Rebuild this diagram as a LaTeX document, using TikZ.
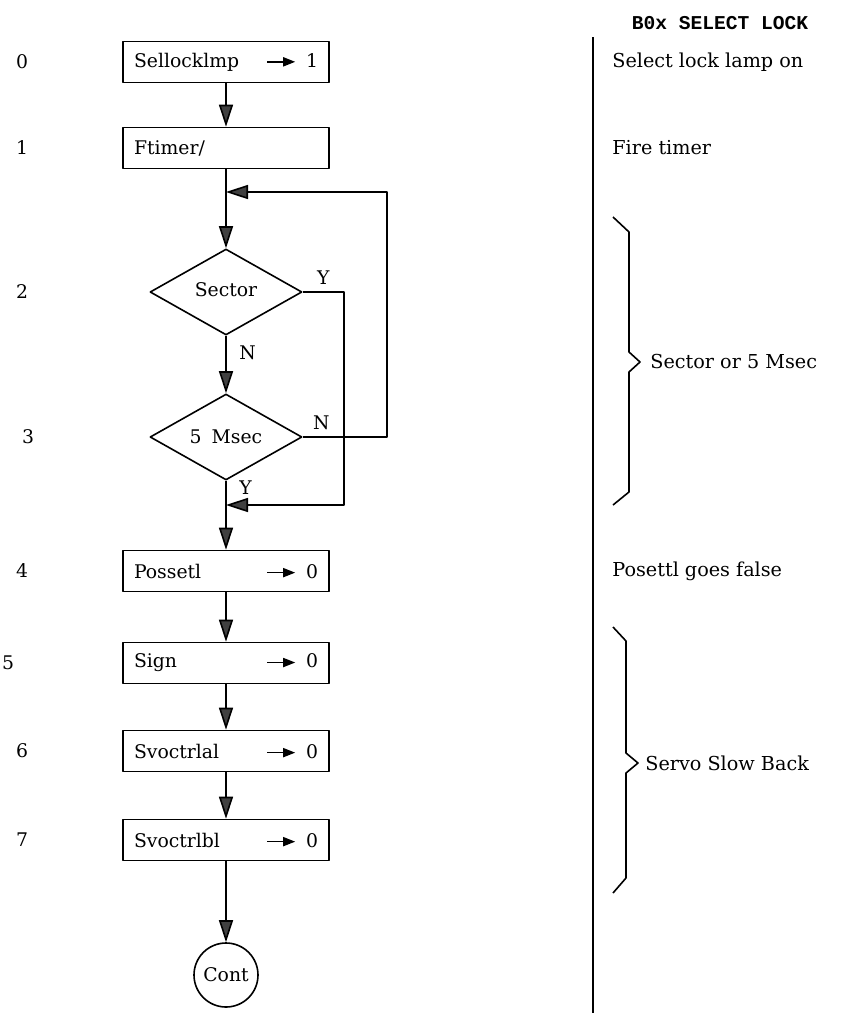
\documentclass[tikz,border=0pt]{standalone}
\usepackage{fontspec}
\setmainfont{DejaVu Serif}
\newfontfamily\typefont{Liberation Mono}
\usetikzlibrary{shapes.geometric,arrows.meta}
\newcommand{\setto}{\tikz[baseline=-0.55ex]\draw[line width=0.8pt,-{Triangle[length=6pt,width=4.5pt]}] (0,0) -- (14pt,0);}
\newcommand{\boxline}[2]{\makebox[92pt]{#1\hfill\setto\hspace{5pt}#2}}

\begin{document}
\begin{tikzpicture}[x=0.5pt, y=-0.5pt, line join=round, font=\fontsize{9.4}{11}\selectfont,
    >={Triangle[length=11pt,width=7pt,fill=darkgray]},
    flowbox/.style={draw, line width=0.8pt, minimum width=103pt, minimum height=20.5pt, inner xsep=5.5pt, inner ysep=0pt},
    decision/.style={diamond, draw, line width=0.8pt, aspect=1.75, minimum width=76pt, minimum height=43pt, inner sep=0pt},
    note/.style={anchor=west, inner sep=0pt, font=\fontsize{9.6}{11}\selectfont},
    line/.style={line width=0.8pt}]
    \useasboundingbox (0,0) rectangle (844,1013);

    \node[flowbox] (sellock) at (226,62) {\boxline{Sellocklmp}{1}};
    \node[flowbox] (ftimer) at (226,148) {\makebox[92pt][l]{Ftimer/}};
    \coordinate (loopin) at (226,192);
    \node[decision] (sector) at (226,292) {\raisebox{2pt}{Sector}\hspace{16pt}};
    \node[decision] (msec) at (226,437) {5\hspace{5pt}Msec\hspace{8pt}};
    \coordinate (merge) at (226,505);
    \node[flowbox] (possetl) at (226,571) {\boxline{Possetl}{0}};
    \node[flowbox] (sign) at (226,663) {\boxline{Sign}{0}};
    \node[flowbox] (svoctrlal) at (226,751) {\boxline{Svoctrlal}{0}};
    \node[flowbox] (svoctrlbl) at (226,840) {\boxline{Svoctrlbl}{0}};
    \node[circle, draw, line width=0.8pt, minimum size=32pt, inner sep=0pt] (cont) at (226,975) {Cont};
    \coordinate (yturn) at (344,505);
    \coordinate (nturn) at (387,192);

    \draw[line,->] (sellock) -- (ftimer);
    \draw[line] (ftimer) -- (loopin);
    \draw[line,->] (loopin) -- (sector);
    \draw[line,->] (sector) -- node[right=3pt, pos=0.3]{N} (msec);
    \draw[line,->] (sector.east) -- node[above]{Y} (sector.east -| yturn) -- (yturn) -- (merge);
    \draw[line,->] (msec.east) -- node[above, pos=0.22]{N} (msec.east -| nturn) -- (nturn) -- (loopin);
    \draw[line] (msec) -- node[right=3pt, pos=0.3]{Y} (merge);
    \draw[line,->] (merge) -- (possetl);
    \draw[line,->] (possetl) -- (sign);
    \draw[line,->] (sign) -- (svoctrlal);
    \draw[line,->] (svoctrlal) -- (svoctrlbl);
    \draw[line,->] (svoctrlbl) -- (cont);

    \node (row0) at (22,62) {0};
    \node (row1) at (22,148) {1};
    \node (row2) at (22,292) {2};
    \node (row3) at (28,437) {3};
    \node (row4) at (22,571) {4};
    \node (row5) at (8,663) {5};
    \node (row6) at (22,751) {6};
    \node (row7) at (22,840) {7};

    \draw[line] (593,37) -- (593,1013);
    \node[font=\typefont\bfseries\fontsize{9.8}{11}\selectfont] (title) at (720,23) {B0x SELECT LOCK};
    \node[note] (lampnote) at (612,62) {Select lock lamp on};
    \node[note] (firenote) at (612,148) {Fire timer};
    \node[note] (posnote) at (612,571) {Posettl goes false};
    \node[note] (waitnote) at (650,362) {Sector or 5 Msec};
    \node[note] (slownote) at (645,763) {Servo Slow Back};
    \draw[line] (613,217) -- (629,232) -- (629,352) -- (640,362) -- (629,372) -- (629,492) -- (613,505);
    \draw[line] (613,627) -- (626,641) -- (626,753) -- (638,763) -- (626,773) -- (626,878) -- (613,893);
\end{tikzpicture}
\end{document}
